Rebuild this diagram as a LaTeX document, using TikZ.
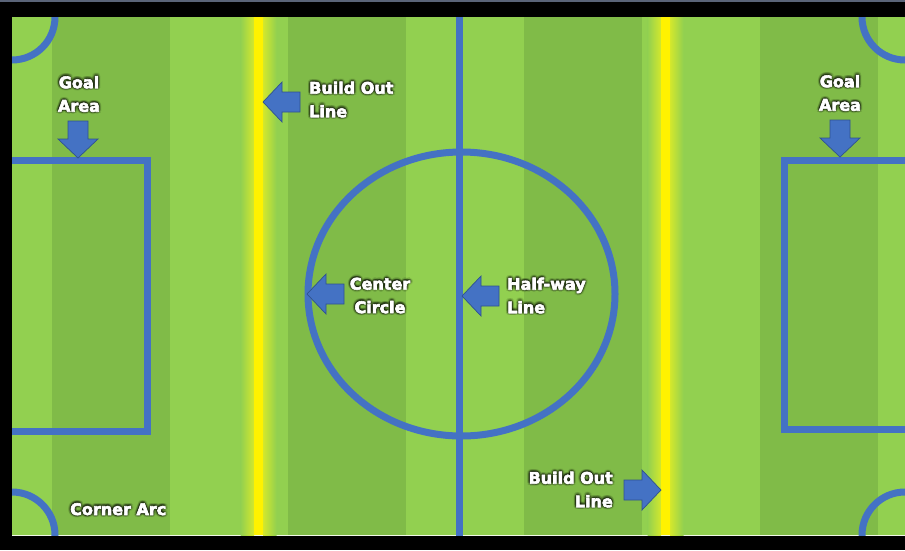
\documentclass[tikz,border=0pt]{standalone}
\usepackage{fontspec}
\setmainfont{DejaVu Sans}
\usetikzlibrary{calc}
\definecolor{lightg}{HTML}{92D050}
\definecolor{darkg}{HTML}{80BB48}
\definecolor{pblue}{HTML}{4472C4}
\definecolor{pblueedge}{HTML}{2F528F}
\definecolor{glowy}{RGB}{212,232,44}
\definecolor{topgrey}{RGB}{90,100,120}
\tikzset{
  fieldline/.style={draw=pblue, line width=7pt},
  arrowshape/.style={fill=pblue, draw=pblueedge, line width=0.7pt, line join=miter},
  lbltxt/.style={font=\bfseries\fontsize{16}{23.5}\selectfont, text=white, inner sep=0pt},
}
% slightly emboldened white text (fill + white stroke)
\newcommand\bold[1]{\special{pdf:code q 2 Tr 1 j 1 J 0.6 w 1 1 1 RG 1 1 1 rg}#1\special{pdf:code Q}}
\newcommand\lbl[4]{%
  \def\L##1{##1}%
  \foreach \a in {0,30,...,330}{%
    \node[lbltxt,#3,text=black,text opacity=0.10] at ($(#2)+(\a:2.6)$) {#4};
    \node[lbltxt,#3,text=black,text opacity=0.16] at ($(#2)+(\a:1.3)$) {#4};}
  \let\L\bold
  \node[lbltxt,#3] (#1) at (#2) {#4};}
\newcommand\blockarrow[2]{%
  \begin{scope}[shift={(#1)}, rotate=#2]
    \path[arrowshape] (0,0) -- (19,-20) -- (19,-10) -- (37,-10) -- (37,10) -- (19,10) -- (19,20) -- cycle;
  \end{scope}}
\begin{document}
\begin{tikzpicture}[x=1pt,y=-1pt]
\useasboundingbox (0,0) rectangle (905,550);
% background
\fill[black] (0,0) rectangle (905,550);
\fill[topgrey] (0,0) rectangle (905,1.5);
% field stripes
\fill[lightg] (12,17) rectangle (905,535);
\foreach \s in {52,288,524,760}{\fill[darkg] (\s,17) rectangle ({\s+118},535);}
\draw[white!85!lightg, line width=1pt] (12,535) -- (905,535);
% build out lines with glow
\foreach \c in {258.5,665.5}{%
  \shade[left color=lightg, right color=glowy] ({\c-18},17) rectangle ({\c-4.5},535);
  \shade[left color=glowy, right color=lightg] ({\c+4.5},17) rectangle ({\c+18},535);
  \fill[yellow] ({\c-4.5},17) rectangle ({\c+4.5},535);}
% field markings
\begin{scope}
  \clip (12,17) rectangle (905,535);
  \draw[fieldline] (0,160) rectangle (147,431);
  \draw[fieldline] (784.5,160) rectangle (920,429);
  \draw[fieldline] (459,10) -- (459,540);
  \draw[fieldline] (461.5,294) ellipse [x radius=153.5, y radius=142];
  \draw[fieldline] (12,17) circle [radius=43];
  \draw[fieldline] (12,535) circle [radius=43];
  \draw[fieldline] (905,17) circle [radius=43];
  \draw[fieldline] (905,535) circle [radius=43];
\end{scope}
% arrows
\blockarrow{263,102}{0}
\blockarrow{307,294}{0}
\blockarrow{462,296}{0}
\blockarrow{661,490}{180}
\blockarrow{78,158}{90}
\blockarrow{840,157}{90}
% labels
\lbl{goalL}{79,94}{align=center}{\L{Goal}\\\L{Area}}
\lbl{goalR}{840,93}{align=center}{\L{Goal}\\\L{Area}}
\lbl{buildT}{309,99.5}{align=left,anchor=west}{\L{Build Out}\\\L{Line}}
\lbl{centerC}{380,295.5}{align=center}{\L{Center}\\\L{Circle}}
\lbl{halfway}{507,295.5}{align=left,anchor=west}{\L{Half-way}\\\L{Line}}
\lbl{buildB}{613,489.5}{align=right,anchor=east}{\L{Build Out}\\\L{Line}}
\lbl{corner}{70,515}{anchor=base west}{\L{Corner Arc}}
\end{tikzpicture}
\end{document}
